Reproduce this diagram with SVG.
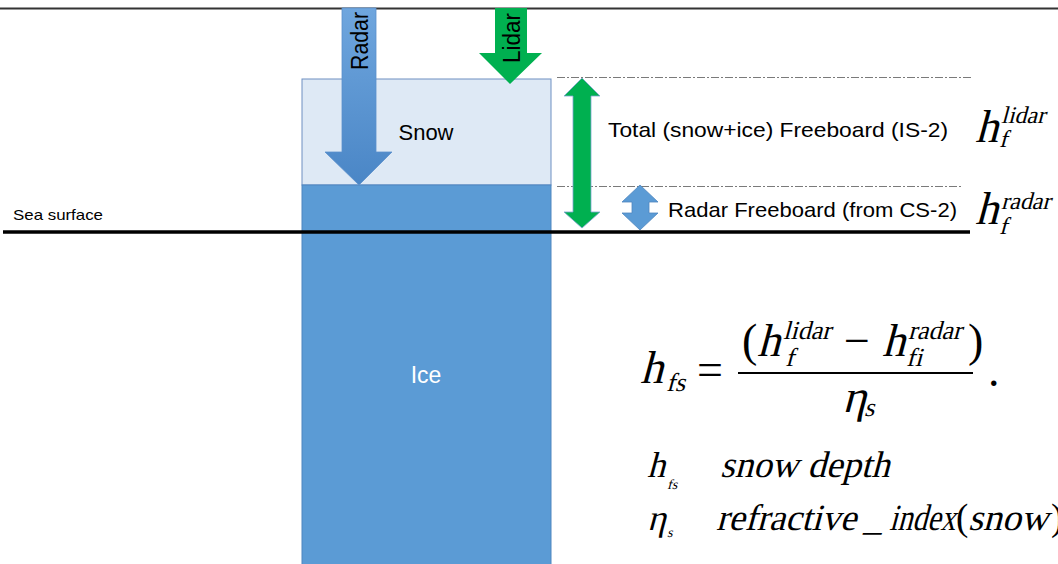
<svg xmlns="http://www.w3.org/2000/svg" width="1058" height="564" viewBox="0 0 1058 564">
  <defs>
    <linearGradient id="radarGrad" x1="0" y1="0" x2="0" y2="1">
      <stop offset="0" stop-color="#6FA6DE"/>
      <stop offset="1" stop-color="#4A86C6"/>
    </linearGradient>
  </defs>
  <style>
    .lbl { font-family: "Liberation Sans", Arial, sans-serif; fill: #000; }
    .m { font-family: "Liberation Serif", "Times New Roman", serif; fill: #000; }
    .dash { stroke: #7a7a7a; stroke-width: 1; stroke-dasharray: 8 2 2 2; fill: none; }
  </style>
  <rect width="1058" height="564" fill="#fff"/>

  <rect x="0" y="7.5" width="1058" height="2" fill="#333"/>

  <g id="snow">
    <rect x="302" y="79" width="249" height="106" fill="#DEE9F5" stroke="#6E90C2" stroke-width="1"/>
    <text class="lbl" x="426" y="140" font-size="22" text-anchor="middle">Snow</text>
  </g>
  <g id="ice">
    <rect x="302" y="185" width="249" height="390" fill="#5B9BD5" stroke="#4F86BF" stroke-width="1"/>
    <text class="lbl" x="426" y="383" font-size="23" text-anchor="middle" style="fill:#fff">Ice</text>
  </g>

  <g id="sea-surface">
    <line x1="3" y1="232" x2="970" y2="232" stroke="#000" stroke-width="3.5"/>
    <text class="lbl" x="13" y="220" font-size="15" textLength="90" lengthAdjust="spacingAndGlyphs">Sea surface</text>
  </g>

  <g id="radar-arrow">
    <polygon points="342,8 376,8 376,152 392,152 359,185 325,152 342,152" fill="url(#radarGrad)" stroke="#5B8FCC" stroke-width="0.8"/>
    <text class="lbl" transform="translate(368,41) rotate(-90)" font-size="23" text-anchor="middle" textLength="58" lengthAdjust="spacingAndGlyphs">Radar</text>
  </g>

  <g id="lidar-arrow">
    <polygon points="495,8 527,8 527,53 542,53 510,84 479,53 495,53" fill="#00B050"/>
    <text class="lbl" transform="translate(520,38) rotate(-90)" font-size="23" text-anchor="middle" textLength="50" lengthAdjust="spacingAndGlyphs">Lidar</text>
  </g>

  <g id="connectors">
    <line class="dash" x1="557" y1="77.5" x2="971" y2="77.5"/>
    <line class="dash" x1="557" y1="186.5" x2="963" y2="186.5"/>
    <polygon points="582,78 600,96 591,96 591,212 600,212 582,228 564,212 573,212 573,96 564,96" fill="#00B050" stroke="#7FA5D2" stroke-width="0.8"/>
    <polygon points="640,185 658,202 649,202 649,213 658,213 640,230 622,213 632,213 632,202 622,202" fill="#5B9BD5" stroke="#4F86BF" stroke-width="0.8"/>
  </g>

  <g id="total-freeboard">
    <text class="lbl" x="608" y="137" font-size="21" textLength="340" lengthAdjust="spacingAndGlyphs">Total (snow+ice) Freeboard (IS-2)</text>
    <text class="m" transform="translate(975,142) skewX(-15)" font-size="46">h</text>
    <text class="m" transform="translate(1001,123) skewX(-15)" font-size="24">lidar</text>
    <text class="m" transform="translate(999,147) skewX(-15)" font-size="24">f</text>
  </g>

  <g id="radar-freeboard">
    <text class="lbl" x="668" y="217" font-size="21" textLength="289" lengthAdjust="spacingAndGlyphs">Radar Freeboard (from CS-2)</text>
    <text class="m" transform="translate(975,224) skewX(-15)" font-size="46">h</text>
    <text class="m" transform="translate(1001,209) skewX(-15)" font-size="24">radar</text>
    <text class="m" transform="translate(999,234) skewX(-15)" font-size="24">f</text>
  </g>

  <g id="formula">
    <text class="m" transform="translate(640,383) skewX(-15)" font-size="46">h</text>
    <text class="m" transform="translate(666,391) skewX(-15)" font-size="26">fs</text>
    <text class="m" x="697" y="385" font-size="46">=</text>
    <line x1="738" y1="373" x2="973" y2="373" stroke="#000" stroke-width="2"/>
    <text class="m" x="742" y="356" font-size="46">(</text>
    <text class="m" transform="translate(757,356) skewX(-15)" font-size="46">h</text>
    <text class="m" transform="translate(783,339) skewX(-15)" font-size="26">lidar</text>
    <text class="m" transform="translate(785,366) skewX(-15)" font-size="26">f</text>
    <text class="m" x="844" y="356" font-size="46">−</text>
    <text class="m" transform="translate(882,356) skewX(-15)" font-size="46">h</text>
    <text class="m" transform="translate(908,339) skewX(-15)" font-size="26">radar</text>
    <text class="m" transform="translate(906,366) skewX(-15)" font-size="26">fi</text>
    <text class="m" x="968" y="356" font-size="46">)</text>
    <text class="m" transform="translate(842,412) skewX(-15)" font-size="46">η</text>
    <text class="m" transform="translate(864,416) skewX(-15)" font-size="26">s</text>
    <text class="m" x="988" y="386" font-size="46">.</text>
  </g>

  <g id="legend">
    <text class="m" transform="translate(647,477) skewX(-15)" font-size="36">h</text>
    <text class="m" transform="translate(667,489) skewX(-15)" font-size="14">fs</text>
    <text class="m" transform="translate(720,477) skewX(-15)" font-size="37">snow depth</text>
    <text class="m" transform="translate(647,530) skewX(-15)" font-size="36">η</text>
    <text class="m" transform="translate(667,537) skewX(-15)" font-size="14">s</text>
    <text class="m" transform="translate(716,530) skewX(-15)" font-size="37" textLength="140" lengthAdjust="spacingAndGlyphs">refractive</text>
    <text class="m" transform="translate(864,530) skewX(-15)" font-size="37">_</text>
    <text class="m" transform="translate(889,530) skewX(-15)" font-size="37" textLength="66" lengthAdjust="spacingAndGlyphs">index</text>
    <text class="m" x="956" y="530" font-size="37">(</text>
    <text class="m" transform="translate(968,530) skewX(-15)" font-size="37" textLength="80" lengthAdjust="spacingAndGlyphs">snow</text>
    <text class="m" x="1051" y="530" font-size="37">)</text>
  </g>
</svg>
